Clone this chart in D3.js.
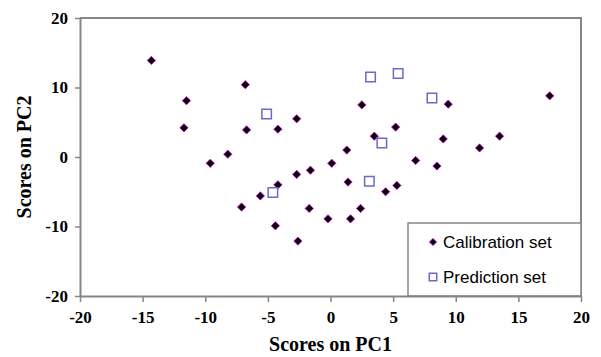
<!DOCTYPE html>
<html lang="en">
  <head>
    <meta charset="UTF-8" />
    <title>PCA scores</title>
    <script src="https://d3js.org/d3.v7.min.js"></script>
    <style>
      body { margin: 0; background: #fff; }
      .tick text { font-family: "Liberation Serif", "Times New Roman", serif; font-weight: bold; font-size: 17px; fill: #000; }
    </style>
  </head>
  <body>
    <div id="chart"></div>
    <script>
      // calibration set scores (PC1, PC2)
      const calX = [-14.3, -11.5, -11.7, -6.8, -6.7, -4.2, -2.7, -9.6, -8.2, 2.5, 3.5, 5.2, 1.3, 0.1,
                    -2.7, -1.6, 1.4, -4.2, -5.6, -7.1, -1.7, -4.4, -2.6, -0.2, 1.6, 2.4, 4.4, 5.3,
                    9.4, 17.5, 9.0, 13.5, 11.9, 6.8, 8.5];
      const calY = [13.9, 8.1, 4.2, 10.4, 3.9, 4.0, 5.5, -0.9, 0.4, 7.5, 3.0, 4.3, 1.0, -0.9,
                    -2.5, -1.9, -3.6, -4.0, -5.6, -7.2, -7.4, -9.9, -12.1, -8.9, -8.9, -7.4, -5.0, -4.1,
                    7.6, 8.8, 2.6, 3.0, 1.3, -0.5, -1.3];
      // prediction set scores
      const predX = [-5.1, 3.2, 5.4, 8.1, 4.1, 3.1, -4.6];
      const predY = [6.2, 11.5, 12.0, 8.5, 2.0, -3.5, -5.1];
      const ticks = [-20, -15, -10, -5, 0, 5, 10, 15, 20];
      const yTicks = [-20, -10, 0, 10, 20];
      const legendLabels = ["Calibration set", "Prediction set"];

      const W = 601, H = 357;
      const pLeft = 80, pRight = 581, pTop = 18, pBottom = 296;
      const axisColor = "#868686";
      const fmt = d => String(d); // plain hyphen minus like the original

      const svg = d3.select("#chart").append("svg")
        .attr("width", W).attr("height", H);

      const x = d3.scaleLinear().domain([-20, 20]).range([pLeft, pRight]);
      const y = d3.scaleLinear().domain([-20, 20]).range([pBottom, pTop]);

      // frame top + right
      svg.append("path")
        .attr("d", `M${pLeft},${pTop}H${pRight}V${pBottom}`)
        .attr("fill", "none").attr("stroke", axisColor).attr("stroke-width", 2);

      const xAxis = svg.append("g")
        .attr("transform", `translate(0,${pBottom})`)
        .call(d3.axisBottom(x).tickValues(ticks).tickFormat(fmt).tickSize(6).tickSizeOuter(0));
      xAxis.selectAll("text").attr("y", 15);

      const yAxis = svg.append("g")
        .attr("transform", `translate(${pLeft},0)`)
        .call(d3.axisLeft(y).tickValues(yTicks).tickFormat(fmt).tickSize(5).tickPadding(7).tickSizeOuter(0));

      [xAxis, yAxis].forEach(g => {
        g.select(".domain").attr("stroke", axisColor).attr("stroke-width", 2);
        g.selectAll(".tick line").attr("stroke", axisColor).attr("stroke-width", 1.5);
      });

      // axis titles
      svg.append("text")
        .attr("x", (pLeft + pRight) / 2).attr("y", 351)
        .attr("text-anchor", "middle")
        .style("font-family", "'Liberation Serif', 'Times New Roman', serif")
        .style("font-weight", "bold").style("font-size", "20px")
        .text("Scores on PC1");
      svg.append("text")
        .attr("transform", `translate(31,${(pTop + pBottom) / 2}) rotate(-90)`)
        .attr("text-anchor", "middle")
        .style("font-family", "'Liberation Serif', 'Times New Roman', serif")
        .style("font-weight", "bold").style("font-size", "20px")
        .text("Scores on PC2");

      const diamond = d3.symbol().type(d3.symbolSquare).size(34);
      const square = d3.symbol().type(d3.symbolSquare).size(90);

      const cal = calX.map((v, i) => ({ x: v, y: calY[i] }));
      const pred = predX.map((v, i) => ({ x: v, y: predY[i] }));

      svg.append("g").selectAll("path")
        .data(cal).enter().append("path")
        .attr("d", diamond)
        .attr("transform", d => `translate(${x(d.x)},${y(d.y)}) rotate(45)`)
        .attr("fill", "#000").attr("stroke", "#d000d0").attr("stroke-width", 0.8);

      svg.append("g").selectAll("path")
        .data(pred).enter().append("path")
        .attr("d", square)
        .attr("transform", d => `translate(${x(d.x)},${y(d.y)})`)
        .attr("fill", "none").attr("stroke", "#6a6ac8").attr("stroke-width", 1.5);

      // legend
      const lg = svg.append("g");
      lg.append("rect")
        .attr("x", 408).attr("y", 223).attr("width", pRight - 408).attr("height", pBottom - 223)
        .attr("fill", "#fff").attr("stroke", axisColor).attr("stroke-width", 1.5);
      lg.append("path").attr("d", d3.symbol().type(d3.symbolSquare).size(26))
        .attr("transform", "translate(433,242) rotate(45)")
        .attr("fill", "#000").attr("stroke", "#d000d0").attr("stroke-width", 0.8);
      lg.append("path").attr("d", d3.symbol().type(d3.symbolSquare).size(56))
        .attr("transform", "translate(433,277)")
        .attr("fill", "none").attr("stroke", "#6a6ac8").attr("stroke-width", 1.5);
      lg.selectAll("text.lab").data(legendLabels).enter().append("text")
        .attr("class", "lab")
        .attr("x", 443).attr("y", (d, i) => 248 + i * 35)
        .style("font-family", "'Liberation Sans', Arial, sans-serif")
        .style("font-size", "17px")
        .text(d => d);

      // bring axes on top of legend box edge
      svg.node().appendChild(xAxis.node());
    </script>
  </body>
</html>
